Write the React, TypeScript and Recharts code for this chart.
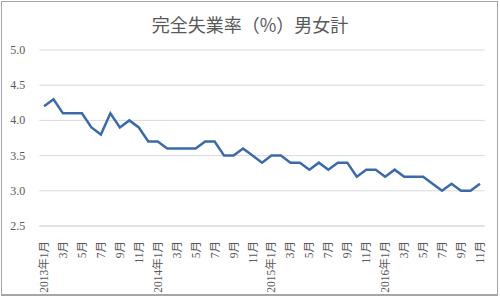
import React from "react";
import { LineChart, Line, XAxis, YAxis, CartesianGrid } from "recharts";

const months: string[] = [
  "2013年1月", "2月", "3月", "4月", "5月", "6月", "7月", "8月", "9月", "10月", "11月", "12月",
  "2014年1月", "2月", "3月", "4月", "5月", "6月", "7月", "8月", "9月", "10月", "11月", "12月",
  "2015年1月", "2月", "3月", "4月", "5月", "6月", "7月", "8月", "9月", "10月", "11月", "12月",
  "2016年1月", "2月", "3月", "4月", "5月", "6月", "7月", "8月", "9月", "10月", "11月",
];

const rates: number[] = [
  4.2, 4.3, 4.1, 4.1, 4.1, 3.9, 3.8, 4.1, 3.9, 4.0, 3.9, 3.7,
  3.7, 3.6, 3.6, 3.6, 3.6, 3.7, 3.7, 3.5, 3.5, 3.6, 3.5, 3.4,
  3.5, 3.5, 3.4, 3.4, 3.3, 3.4, 3.3, 3.4, 3.4, 3.2, 3.3, 3.3,
  3.2, 3.3, 3.2, 3.2, 3.2, 3.1, 3.0, 3.1, 3.0, 3.0, 3.1,
];

const yTicks: number[] = [2.5, 3.0, 3.5, 4.0, 4.5, 5.0];

const title = "完全失業率（%）男女計";

const data = months.map((m, i) => ({ month: m, rate: rates[i] }));

const serif = "Liberation Serif, DejaVu Serif, Noto Sans CJK JP, serif";

const XTick = (props: any) => {
  const { x, y, payload } = props;
  return (
    <text
      transform={`translate(${x},${y + 7}) rotate(-90)`}
      textAnchor="end"
      dominantBaseline="central"
      style={{ fontSize: 11.5, fontFamily: serif }}
      fill="#595959"
    >
      {payload.value}
    </text>
  );
};

const YTick = (props: any) => {
  const { x, y, payload } = props;
  return (
    <text
      x={x}
      y={y}
      textAnchor="end"
      dominantBaseline="central"
      style={{ fontSize: 12, fontFamily: serif }}
      fill="#595959"
    >
      {Number(payload.value).toFixed(1)}
    </text>
  );
};

export default function App() {
  return (
    <div style={{ position: "absolute", left: 0, top: 0, width: 500, height: 298, background: "#fff" }}>
      <style>{`body{margin:0}`}</style>
      <div
        style={{
          position: "absolute",
          left: 1,
          top: 1,
          width: 497,
          height: 295,
          boxSizing: "border-box",
          border: "1px solid #a6a6a6",
          borderBottomWidth: 2,
        }}
      />
      <div
        style={{
          position: "absolute",
          left: 0,
          top: 15,
          width: 500,
          textAlign: "center",
          fontFamily: "'Noto Sans CJK JP', sans-serif",
          fontSize: 18,
          lineHeight: "18px",
          color: "#595959",
        }}
      >
        {title}
      </div>
      <div style={{ position: "absolute", left: 0, top: 0 }}>
        <LineChart
          width={500}
          height={298}
          data={data}
          margin={{ top: 50, right: 15.3, bottom: 0, left: 0 }}
        >
          <CartesianGrid vertical={false} stroke="#d9d9d9" />
          <XAxis
            dataKey="month"
            interval={1}
            tickLine={false}
            axisLine={{ stroke: "#d9d9d9" }}
            padding={{ left: 4.74, right: 4.74 }}
            tick={<XTick />}
            height={72}
          />
          <YAxis
            domain={[2.5, 5]}
            ticks={yTicks}
            width={39.3}
            tickLine={false}
            axisLine={false}
            tickMargin={8}
            tick={<YTick />}
          />
          <Line
            type="linear"
            dataKey="rate"
            stroke="#3c6aa9"
            strokeWidth={2.5}
            dot={false}
            isAnimationActive={false}
          />
        </LineChart>
      </div>
    </div>
  );
}
